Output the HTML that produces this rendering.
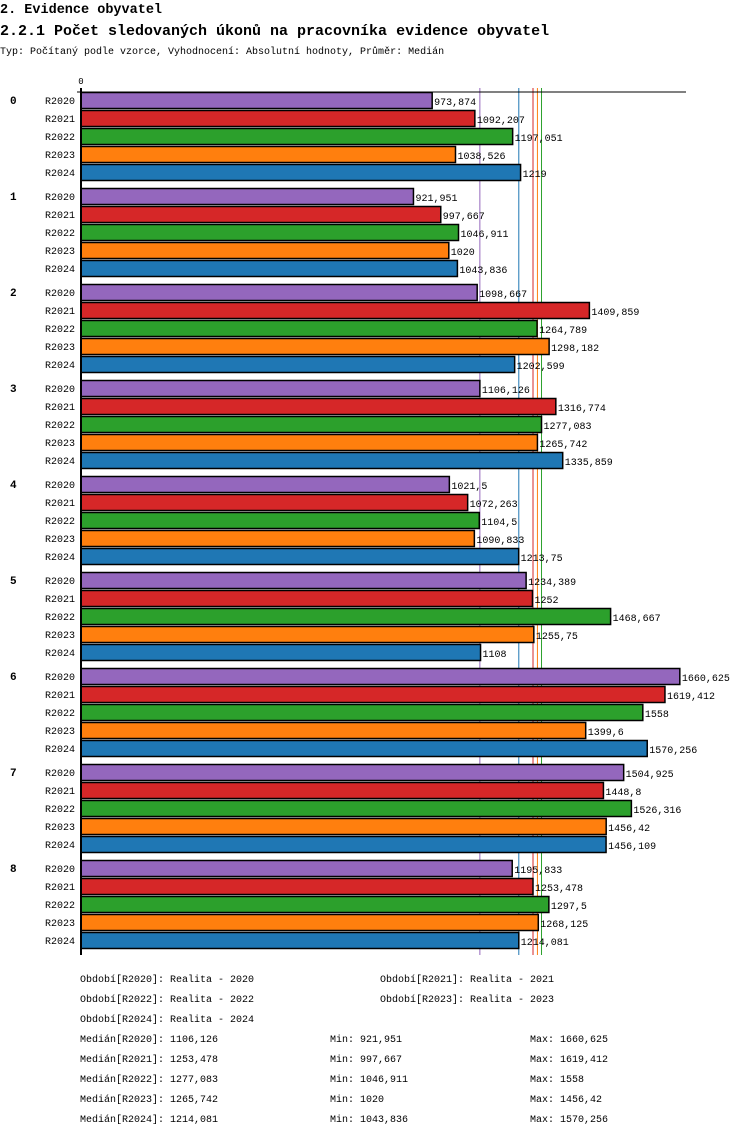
<!DOCTYPE html>
<html><head><meta charset="utf-8"><style>
body{margin:0;background:#fff;width:750px;height:1136px;overflow:hidden;font-family:"Liberation Mono",monospace}
svg text{font-family:"Liberation Mono","DejaVu Sans Mono",monospace}
</style></head><body>
<svg id="c" width="750" height="1136" xmlns="http://www.w3.org/2000/svg">
<text x="0" y="13" font-size="13.5" font-weight="bold">2. Evidence obyvatel</text>
<text x="0" y="35" font-size="15" font-weight="bold">2.2.1 Počet sledovaných úkonů na pracovníka evidence obyvatel</text>
<text x="0" y="54" font-size="10">Typ: Počítaný podle vzorce, Vyhodnocení: Absolutní hodnoty, Průměr: Medián</text>
<g id="grid"></g><g id="bars"></g><g id="legend"></g>
</svg>
<script>
const categories=["0","1","2","3","4","5","6","7","8"];
const series=["R2020","R2021","R2022","R2023","R2024"];
const colors=["#9467bd","#d62728","#2ca02c","#ff7f0e","#1f77b4"];
const v2020=[973.874,921.951,1098.667,1106.126,1021.5,1234.389,1660.625,1504.925,1195.833];
const v2021=[1092.207,997.667,1409.859,1316.774,1072.263,1252,1619.412,1448.8,1253.478];
const v2022=[1197.051,1046.911,1264.789,1277.083,1104.5,1468.667,1558,1526.316,1297.5];
const v2023=[1038.526,1020,1298.182,1265.742,1090.833,1255.75,1399.6,1456.42,1268.125];
const v2024=[1219,1043.836,1202.599,1335.859,1213.75,1108,1570.256,1456.109,1214.081];
const medians=[1106.126,1253.478,1277.083,1265.742,1214.081];
const mins=[921.951,997.667,1046.911,1020,1043.836];
const maxs=[1660.625,1619.412,1558,1456.42,1570.256];
const values=[v2020,v2021,v2022,v2023,v2024];
const NS="http://www.w3.org/2000/svg";
const x=v=>81+v*0.3606;
const yTop=(g,s)=>92+g*96+s*18;
const fmt=v=>String(Math.round(v*1000)/1000).replace('.',',');
function mk(t,a,p){const e=document.createElementNS(NS,t);for(const k in a)e.setAttribute(k,a[k]);p.appendChild(e);return e;}
const grid=document.getElementById('grid'),bars=document.getElementById('bars'),leg=document.getElementById('legend');
medians.forEach((m,i)=>{const l=mk('line',{x1:x(m),x2:x(m),y1:88,y2:955,stroke:colors[i],'stroke-width':1},grid);

});
categories.forEach((c,g)=>{
 const t=mk('text',{x:10,y:yTop(g,0)+12,'font-size':11,'font-weight':'bold'},bars);t.textContent=c;
 
 
 series.forEach((s,i)=>{
  const y=yTop(g,i),v=values[i][g];
  const lt=mk('text',{x:75,y:y+12,'font-size':10,'text-anchor':'end'},bars);lt.textContent=s;
  
  
  const r=mk('rect',{x:81,y:y+0.5,width:x(v)-81,height:16,fill:colors[i],stroke:'#000','stroke-width':1.5},bars);
  
  
  const vt=mk('text',{x:x(v)+2,y:y+13,'font-size':10},bars);vt.textContent=fmt(v);
  
  
 });
});
const ax=mk('line',{x1:81,x2:81,y1:88,y2:955,stroke:'#000','stroke-width':2},bars);


const tx=mk('line',{x1:77,x2:686,y1:92,y2:92,stroke:'#000','stroke-width':1},bars);


const z=mk('text',{x:81,y:84,'font-size':9,'text-anchor':'middle'},bars);z.textContent='0';


function lt(s,xx,yy,n){const t=mk('text',{x:xx,y:yy,'font-size':10},leg);t.textContent=s;
 
 }
const per=[[80,982],[380,982],[80,1002],[380,1002],[80,1022]];
series.forEach((s,i)=>lt('Období['+s+']: Realita - '+s.slice(1),per[i][0],per[i][1],'legend-period-'+s));
series.forEach((s,i)=>{const yy=1042+i*20;
 lt('Medián['+s+']: '+fmt(medians[i]),80,yy,'legend-median-'+s);
 lt('Min: '+fmt(mins[i]),330,yy,'legend-min-'+s);
 lt('Max: '+fmt(maxs[i]),530,yy,'legend-max-'+s);});
</script>
</body></html>
